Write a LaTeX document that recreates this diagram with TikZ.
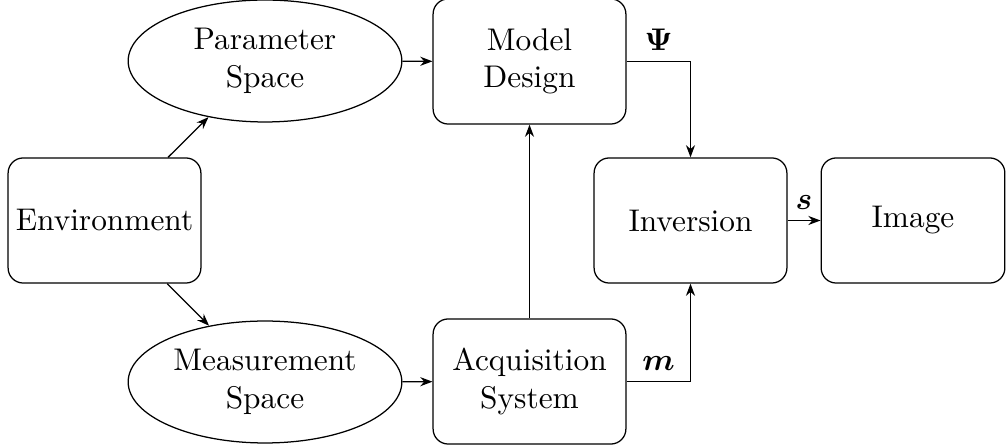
\documentclass[tikz,border=0pt]{standalone}
\usepackage{bm}
\usetikzlibrary{shapes.geometric,arrows.meta}
\begin{document}
\begin{tikzpicture}[x=0.319pt,y=-0.319pt,
  block/.style={draw,rounded corners=4.8pt,minimum width=61.5pt,minimum height=39.9pt,align=center,inner sep=2pt},
  space/.style={draw,ellipse,minimum width=87.3pt,minimum height=38.9pt,align=center,inner sep=0pt},
  link/.style={-{Stealth[length=3.9pt,width=2.9pt]},line width=0.4pt}]
\useasboundingbox (0,0) rectangle (1008,446);
\node[block] (env) at (104.5,220.5) {Environment};
\node[space] (par) at (265,61) {Parameter\\Space};
\node[space] (meas) at (265,382) {Measurement\\Space};
\node[block] (model) at (529.5,61.5) {Model\\Design};
\node[block] (acq) at (529.5,381.5) {Acquisition\\System};
\node[block] (inv) at (690.5,220.5) {Inversion};
\node[block,minimum width=58.6pt] (img) at (913,220.5) {Image};

\draw[link] (env) -- (par);
\draw[link] (env) -- (meas);
\draw[link] (par) -- (model);
\draw[link] (meas) -- (acq);
\draw[link] (acq) -- (model);
\draw[link] (model.east) -- node[above] {$\bm{\Psi}$} (model.east -| inv.north) -- (inv.north);
\draw[link] (acq.east) -- node[above] {$\bm{m}$} (acq.east -| inv.south) -- (inv.south);
\draw[link] (inv) -- node[above] {$\bm{s}$} (img);
\end{tikzpicture}
\end{document}
